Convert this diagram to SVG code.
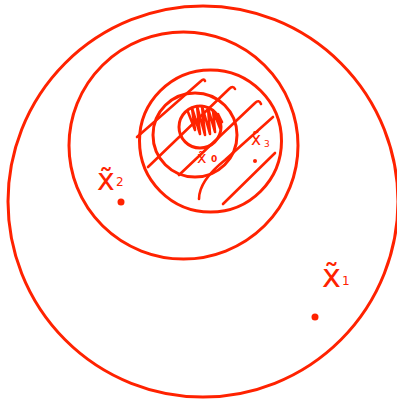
<svg xmlns="http://www.w3.org/2000/svg" width="397" height="403" viewBox="0 0 397 403">
  <style>
    .ring { fill: none; stroke: #ff2200; stroke-width: 3; }
    .hatch { fill: none; stroke: #ff2200; stroke-width: 2.6; stroke-linecap: round; stroke-linejoin: round; }
    .lbl { fill: #ff2200; font-family: "DejaVu Sans", sans-serif; }
    .dot { fill: #ff2200; }
  </style>
  <rect width="397" height="403" fill="#ffffff"/>
  <g id="rings">
    <ellipse class="ring" cx="203" cy="201.5" rx="195" ry="195.5"/>
    <ellipse class="ring" cx="183.5" cy="145.5" rx="114.5" ry="113.5"/>
    <circle class="ring" cx="210.5" cy="141" r="71"/>
    <circle class="ring" cx="195" cy="135" r="42"/>
    <circle class="ring" cx="200" cy="127" r="21"/>
  </g>
  <g id="hatching">
    <path class="hatch" d="M137,137 L201,81 Q204,78 205,81"/>
    <path class="hatch" d="M148,167 L229,89 Q233,85 235,89"/>
    <path class="hatch" d="M179,175 L255,103 Q259,99 261,104"/>
    <path class="hatch" d="M199,199 C199,185 210,172 225,160 L273,117"/>
    <path class="hatch" d="M223,204 L275,153"/>
    <path class="hatch" stroke-width="3" d="M188,112 L195,130 L192,108 L200,134 L197,106 L205,135 L202,106 L210,134 L208,108 L215,132 L213,110 L220,128 L218,114 L222,122"/>
  </g>
  <g id="x0">
    <text class="lbl" x="197" y="163" font-size="16">x̃</text>
    <text class="lbl" x="211" y="162" font-size="9" font-weight="bold">0</text>
  </g>
  <g id="x3">
    <text class="lbl" x="251" y="145" font-size="17">x̃</text>
    <text class="lbl" x="264" y="147" font-size="9">3</text>
    <circle class="dot" cx="255" cy="161" r="2"/>
  </g>
  <g id="x2">
    <text class="lbl" x="97" y="190" font-size="30">x̃</text>
    <text class="lbl" x="116" y="186" font-size="12">2</text>
    <circle class="dot" cx="121" cy="202" r="3.5"/>
  </g>
  <g id="x1">
    <text class="lbl" x="322" y="287" font-size="32">x̃</text>
    <text class="lbl" x="342" y="285" font-size="12">1</text>
    <circle class="dot" cx="315" cy="317" r="3.5"/>
  </g>
</svg>
